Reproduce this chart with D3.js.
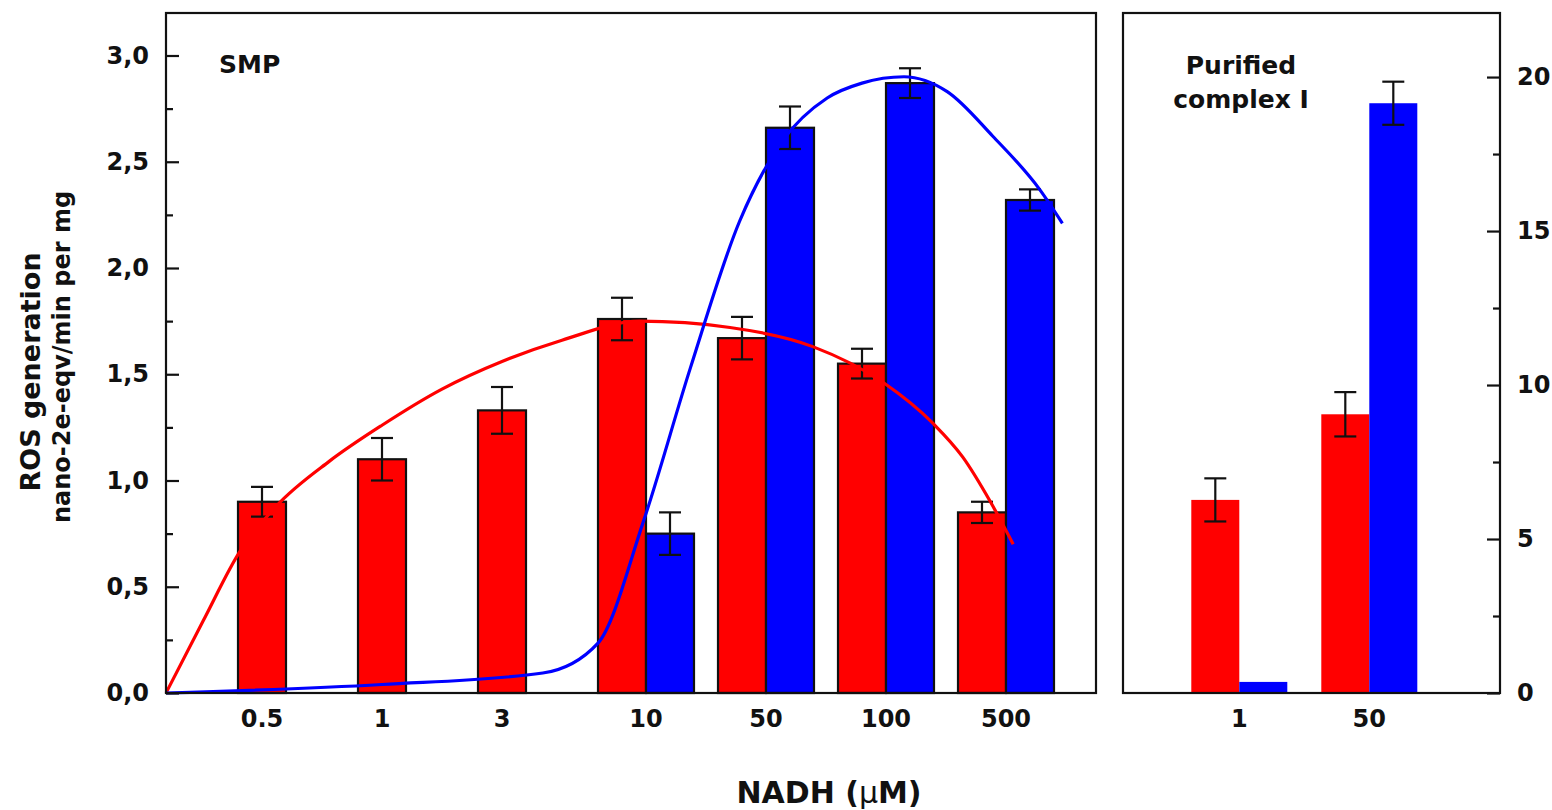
<!DOCTYPE html>
<html>
<head>
<meta charset="utf-8">
<script src="https://cdn.jsdelivr.net/npm/d3@7"></script>
<style>
  html, body { margin: 0; padding: 0; background: #fff; }
  svg text { font-family: "DejaVu Sans", "Liberation Sans", Arial, sans-serif; font-weight: bold; fill: #111; }
</style>
</head>
<body>
<div id="chart"></div>
<script>
// SMP panel (left axis, nano-2e-eqv/min per mg)
const smpConc = ['0.5', '1', '3', '10', '50', '100', '500'];
const smpRed = [0.90, 1.10, 1.33, 1.76, 1.67, 1.55, 0.85];
const smpRedErr = [0.07, 0.10, 0.11, 0.10, 0.10, 0.07, 0.05];
const smpBlue = [null, null, null, 0.75, 2.66, 2.87, 2.32];
const smpBlueErr = [null, null, null, 0.10, 0.10, 0.07, 0.05];

// Purified complex I panel (right axis)
const ciConc = ['1', '50'];
const ciRed = [6.27, 9.05];
const ciRedErr = [0.70, 0.72];
const ciBlue = [0.36, 19.15];
const ciBlueErr = [null, 0.70];

// fitted curves, x in concentration slots (0 = first bar), y in left-axis units
const redFitX = [-0.8, -0.49, -0.18, 0.12, 0.56, 1.0, 1.5, 2.0, 2.5, 3.15, 3.9, 4.59, 5.18, 5.59, 5.84, 6.07, 6.26];
const redFitY = [0, 0.34, 0.67, 0.88, 1.09, 1.26, 1.43, 1.56, 1.66, 1.75, 1.72, 1.63, 1.46, 1.27, 1.11, 0.90, 0.70];
const blueFitX = [-0.8, 1.0, 2.34, 2.8, 3.18, 3.57, 3.98, 4.34, 4.71, 5.0, 5.35, 5.71, 6.09, 6.48, 6.67];
const blueFitY = [0, 0.04, 0.094, 0.235, 0.81, 1.53, 2.22, 2.60, 2.80, 2.87, 2.90, 2.83, 2.62, 2.37, 2.21];

const leftTicks = [0, 0.5, 1.0, 1.5, 2.0, 2.5, 3.0];
const leftMinor = [0.25, 0.75, 1.25, 1.75, 2.25, 2.75];
const rightTicks = [0, 5, 10, 15, 20];
const rightMinor = [2.5, 7.5, 12.5, 17.5];

const RED = '#ff0000';
const BLUE = '#0000ff';

const width = 1552, height = 810;
const plotTop = 13, plotBottom = 693;
const L = { x0: 166, x1: 1096 };
const R = { x0: 1123, x1: 1500 };
const barW = 48;

const svg = d3.select('#chart').append('svg')
    .attr('width', width)
    .attr('height', height);

const xL = d3.scaleLinear().domain([-0.8, 6.95]).range([L.x0, L.x1]);
const yL = d3.scaleLinear().domain([0, 3.2]).range([plotBottom, plotTop]);
const xR = d3.scaleLinear().domain([-0.71, 2.19]).range([R.x0, R.x1]);
const yR = d3.scaleLinear().domain([0, 22.08]).range([plotBottom, plotTop]);

function drawBars(g, x, y, vals, color, offset, outline) {
    const data = vals.map((v, i) => ({ i, v })).filter(d => d.v !== null);
    g.selectAll(null)
        .data(data)
        .enter()
        .append('rect')
        .attr('x', d => x(d.i) + offset - barW / 2)
        .attr('y', d => y(d.v))
        .attr('width', barW)
        .attr('height', d => y(0) - y(d.v))
        .attr('fill', color)
        .attr('stroke', outline ? '#111' : 'none')
        .attr('stroke-width', 2.2);
}

function drawErrors(g, x, y, vals, errs, offset) {
    const data = vals.map((v, i) => ({ i, v, e: errs[i] })).filter(d => d.v !== null && d.e !== null);
    const eg = g.selectAll(null).data(data).enter().append('g')
        .attr('stroke', '#111')
        .attr('stroke-width', 2.2);
    eg.append('line')
        .attr('x1', d => x(d.i) + offset).attr('x2', d => x(d.i) + offset)
        .attr('y1', d => y(d.v + d.e)).attr('y2', d => y(d.v - d.e));
    [1, -1].forEach(s => {
        eg.append('line')
            .attr('x1', d => x(d.i) + offset - 11).attr('x2', d => x(d.i) + offset + 11)
            .attr('y1', d => y(d.v + s * d.e)).attr('y2', d => y(d.v + s * d.e));
    });
}

// ---- left panel (SMP) ----
const gL = svg.append('g');
drawBars(gL, xL, yL, smpRed, RED, 0, true);
drawBars(gL, xL, yL, smpBlue, BLUE, barW, true);
drawErrors(gL, xL, yL, smpRed, smpRedErr, 0);
drawErrors(gL, xL, yL, smpBlue, smpBlueErr, barW);

const fitLine = d3.line()
    .x(d => xL(d[0]))
    .y(d => yL(d[1]))
    .curve(d3.curveMonotoneX);

gL.append('path')
    .attr('d', fitLine(redFitX.map((x, i) => [x, redFitY[i]])))
    .attr('fill', 'none')
    .attr('stroke', RED)
    .attr('stroke-width', 3.2);
gL.append('path')
    .attr('d', fitLine(blueFitX.map((x, i) => [x, blueFitY[i]])))
    .attr('fill', 'none')
    .attr('stroke', BLUE)
    .attr('stroke-width', 3.2);

gL.append('rect')
    .attr('x', L.x0).attr('y', plotTop)
    .attr('width', L.x1 - L.x0).attr('height', plotBottom - plotTop)
    .attr('fill', 'none').attr('stroke', '#111').attr('stroke-width', 2.2);

gL.append('g')
    .attr('transform', `translate(${L.x0},0)`)
    .call(d3.axisLeft(yL).tickValues(leftTicks).tickSizeInner(-13).tickSizeOuter(0).tickPadding(17)
        .tickFormat(d => d3.format('.1f')(d).replace('.', ',')));
gL.append('g')
    .attr('transform', `translate(${L.x0},0)`)
    .call(d3.axisLeft(yL).tickValues(leftMinor).tickSizeInner(-7).tickSizeOuter(0).tickFormat(''));

gL.selectAll('g.tick text').style('font-size', '24px');

gL.selectAll(null)
    .data(smpConc)
    .enter()
    .append('text')
    .attr('x', (d, i) => xL(i) + (smpBlue[i] !== null ? barW / 2 : 0))
    .attr('y', 727)
    .attr('text-anchor', 'middle')
    .style('font-size', '24px')
    .text(d => d);

gL.append('text')
    .attr('x', 219).attr('y', 73)
    .style('font-size', '25px')
    .text('SMP');

// ---- right panel (purified complex I) ----
const gR = svg.append('g');
drawBars(gR, xR, yR, ciRed, RED, 0, false);
drawBars(gR, xR, yR, ciBlue, BLUE, barW, false);
drawErrors(gR, xR, yR, ciRed, ciRedErr, 0);
drawErrors(gR, xR, yR, ciBlue, ciBlueErr, barW);

gR.append('rect')
    .attr('x', R.x0).attr('y', plotTop)
    .attr('width', R.x1 - R.x0).attr('height', plotBottom - plotTop)
    .attr('fill', 'none').attr('stroke', '#111').attr('stroke-width', 2.2);

gR.append('g')
    .attr('transform', `translate(${R.x1},0)`)
    .call(d3.axisRight(yR).tickValues(rightTicks).tickSizeInner(-13).tickSizeOuter(0).tickPadding(17));
gR.append('g')
    .attr('transform', `translate(${R.x1},0)`)
    .call(d3.axisRight(yR).tickValues(rightMinor).tickSizeInner(-7).tickSizeOuter(0).tickFormat(''));
gR.selectAll('g.tick text').style('font-size', '24px');

gR.selectAll(null)
    .data(ciConc)
    .enter()
    .append('text')
    .attr('x', (d, i) => xR(i) + barW / 2)
    .attr('y', 727)
    .attr('text-anchor', 'middle')
    .style('font-size', '24px')
    .text(d => d);

const ciTitle = gR.append('text')
    .attr('text-anchor', 'middle')
    .style('font-size', '25px');
ciTitle.append('tspan').attr('x', 1241).attr('y', 74).text('Purified');
ciTitle.append('tspan').attr('x', 1241).attr('y', 108).text('complex I');

// frames are drawn as rects, so drop the axis domain paths
svg.selectAll('.domain').remove();
svg.selectAll('g.tick line').attr('stroke', '#111').attr('stroke-width', 2.2);

// ---- titles ----
svg.append('text')
    .attr('transform', 'translate(40,372) rotate(-90)')
    .attr('text-anchor', 'middle')
    .style('font-size', '27px')
    .text('ROS generation');
svg.append('text')
    .attr('transform', 'translate(70,357) rotate(-90)')
    .attr('text-anchor', 'middle')
    .style('font-size', '24px')
    .text('nano-2e-eqv/min per mg');

const xTitle = svg.append('text')
    .attr('x', 829).attr('y', 803)
    .attr('text-anchor', 'middle')
    .style('font-size', '30px');
xTitle.append('tspan').text('NADH (');
xTitle.append('tspan').style('font-weight', 'normal').text('\u03bc');
xTitle.append('tspan').text('M)');
</script>
</body>
</html>
